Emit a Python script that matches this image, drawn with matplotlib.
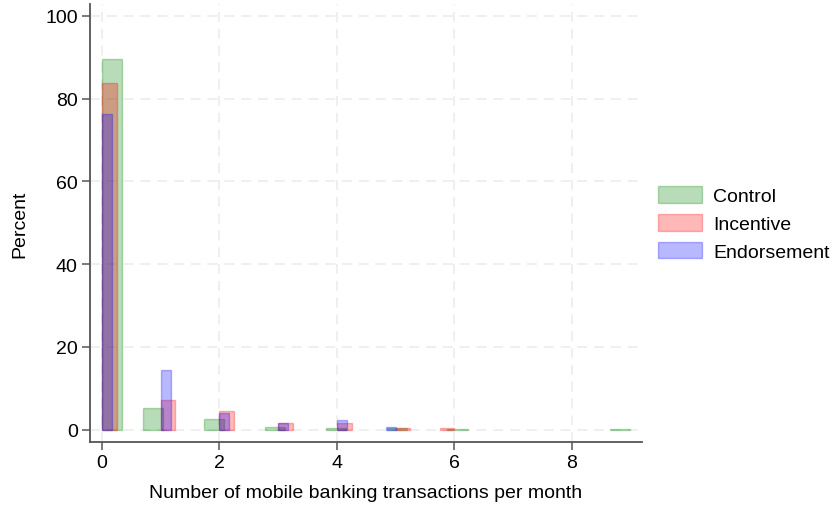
import numpy as np
import matplotlib
matplotlib.use("Agg")
import matplotlib.pyplot as plt

plt.rcParams['font.family'] = ['Liberation Sans', 'DejaVu Sans']

# Transactions per month (integer values) and percent of respondents per group
control_vals = [0, 1, 2, 3, 4, 5, 6, 9]
control_pct = [89.5, 5.3, 2.6, 0.65, 0.5, 0.4, 0.2, 0.2]
incentive_vals = [0, 1, 2, 3, 4, 5, 6]
incentive_pct = [83.9, 7.1, 4.6, 1.7, 1.5, 0.3, 0.3]
endorse_vals = [0, 1, 2, 3, 4, 5]
endorse_pct = [76.2, 14.4, 3.9, 1.7, 2.4, 0.7]

groups = ["Control", "Incentive", "Endorsement"]
# Stata default number of bins per group
n_bins = [26, 24, 30]
colors = [(0, 0.5, 0), (1, 0, 0), (0, 0, 1)]

x_ticks = [0, 2, 4, 6, 8]
y_ticks = [0, 20, 40, 60, 80, 100]

fig = plt.figure(figsize=(8.32, 5.06), dpi=100)
ax = fig.add_axes([89.5 / 832, 1 - 443 / 506, (642 - 89.5) / 832, (443 - 5) / 506])

data = [(control_vals, control_pct), (incentive_vals, incentive_pct), (endorse_vals, endorse_pct)]
handles = []
for (vals, pct), nb, col, name in zip(data, n_bins, colors, groups):
    vals = np.asarray(vals, float)
    edges = np.linspace(0, vals.max(), nb + 1)
    heights, _ = np.histogram(vals, bins=edges, weights=pct)
    keep = heights > 0
    bars = ax.bar(edges[:-1][keep], heights[keep], width=np.diff(edges)[keep], align='edge',
                  facecolor=(*col, 0.28), edgecolor=(*col, 0.28), linewidth=1.0,
                  zorder=3, label=name)
    handles.append(bars.patches[0])

ax.set_xlim(-0.215, 9.2)
ax.set_ylim(-3.0, 102.9)
ax.set_xticks(x_ticks)
ax.set_yticks(y_ticks)

ax.grid(True, color='#ebebeb', linewidth=1.1, linestyle=(0, (6.5, 4.5)), zorder=0)
ax.set_axisbelow(True)

for s in ['top', 'right']:
    ax.spines[s].set_visible(False)
for s in ['left', 'bottom']:
    ax.spines[s].set_color('#555555')
    ax.spines[s].set_linewidth(1.3)
ax.tick_params(axis='both', direction='out', length=6, width=1.1, color='#555555',
               labelsize=14, pad=2.5, labelcolor='black')

ax.set_xlabel("Number of mobile banking transactions per month", fontsize=14, labelpad=9.5)
ax.set_ylabel("Percent", fontsize=14, labelpad=12)

fig.legend(handles=handles, labels=groups, loc='upper left',
           bbox_to_anchor=(657.5 / 832, 1 - 187 / 506), bbox_transform=fig.transFigure,
           frameon=False, fontsize=14, handlelength=2.3, handleheight=0.95,
           labelspacing=0.45, handletextpad=0.55, borderpad=0, borderaxespad=0)

fig.savefig("out.png", dpi=100)
